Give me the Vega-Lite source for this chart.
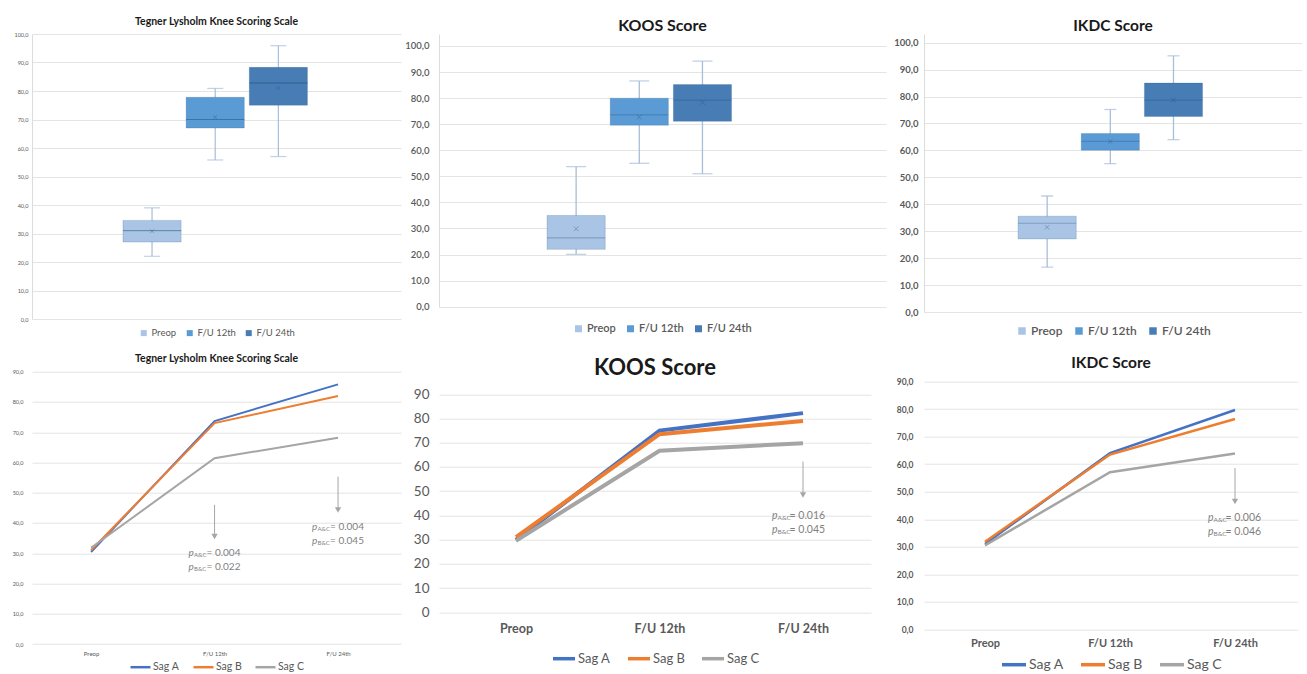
{
  "$schema": "https://vega.github.io/schema/vega-lite/v6.json",
  "background": "white",
  "padding": {"left": 12, "top": 16, "right": 0, "bottom": 0},
  "config": {
    "font": "Lato",
    "view": {"stroke": null},
    "axis": {"domain": false, "ticks": false, "gridColor": "#e4e4e4", "labelColor": "#595959", "labelFont": "Lato", "labelOverlap": false},
    "title": {"color": "#1a1a1a", "fontWeight": "bold", "font": "Lato"},
    "legend": {"layout": {"bottom": {"anchor": "middle"}}, "labelColor": "#595959", "labelFont": "Lato"}
  },
  "datasets": {
    "tegnerBox": [
      {"time": "Preop", "min": 22, "q1": 27, "median": 31, "q3": 34.6, "max": 39, "mean": 30.8},
      {"time": "F/U 12th", "min": 55.8, "q1": 67, "median": 70, "q3": 77.8, "max": 80.9, "mean": 70.8},
      {"time": "F/U 24th", "min": 57, "q1": 75, "median": 82.8, "q3": 88.3, "max": 95.9, "mean": 81}
    ],
    "koosBox": [
      {"time": "Preop", "min": 20.1, "q1": 22, "median": 26.4, "q3": 35, "max": 53.7, "mean": 29.9},
      {"time": "F/U 12th", "min": 55, "q1": 69.6, "median": 73.6, "q3": 80, "max": 86.6, "mean": 72.7},
      {"time": "F/U 24th", "min": 51, "q1": 71.1, "median": 79.2, "q3": 85.2, "max": 94.2, "mean": 78.4}
    ],
    "ikdcBox": [
      {"time": "Preop", "min": 16.7, "q1": 27.2, "median": 33, "q3": 35.6, "max": 43.1, "mean": 31.5},
      {"time": "F/U 12th", "min": 55.1, "q1": 60.1, "median": 63.4, "q3": 66.3, "max": 75.2, "mean": 63.3},
      {"time": "F/U 24th", "min": 64, "q1": 72.6, "median": 78.7, "q3": 85, "max": 95.1, "mean": 78.7}
    ],
    "tegnerLine": [
      {"time": "Preop", "group": "Sag A", "score": 30.4},
      {"time": "F/U 12th", "group": "Sag A", "score": 73.7},
      {"time": "F/U 24th", "group": "Sag A", "score": 85.8},
      {"time": "Preop", "group": "Sag B", "score": 31.0},
      {"time": "F/U 12th", "group": "Sag B", "score": 73.0},
      {"time": "F/U 24th", "group": "Sag B", "score": 82.0},
      {"time": "Preop", "group": "Sag C", "score": 31.8},
      {"time": "F/U 12th", "group": "Sag C", "score": 61.4},
      {"time": "F/U 24th", "group": "Sag C", "score": 68.2}
    ],
    "koosLine": [
      {"time": "Preop", "group": "Sag A", "score": 29.9},
      {"time": "F/U 12th", "group": "Sag A", "score": 75.0},
      {"time": "F/U 24th", "group": "Sag A", "score": 82.2},
      {"time": "Preop", "group": "Sag B", "score": 31.0},
      {"time": "F/U 12th", "group": "Sag B", "score": 73.5},
      {"time": "F/U 24th", "group": "Sag B", "score": 79.0},
      {"time": "Preop", "group": "Sag C", "score": 29.5},
      {"time": "F/U 12th", "group": "Sag C", "score": 66.7},
      {"time": "F/U 24th", "group": "Sag C", "score": 69.8}
    ],
    "ikdcLine": [
      {"time": "Preop", "group": "Sag A", "score": 31.0},
      {"time": "F/U 12th", "group": "Sag A", "score": 64.0},
      {"time": "F/U 24th", "group": "Sag A", "score": 79.7},
      {"time": "Preop", "group": "Sag B", "score": 31.8},
      {"time": "F/U 12th", "group": "Sag B", "score": 63.5},
      {"time": "F/U 24th", "group": "Sag B", "score": 76.4},
      {"time": "Preop", "group": "Sag C", "score": 30.5},
      {"time": "F/U 12th", "group": "Sag C", "score": 57.1},
      {"time": "F/U 24th", "group": "Sag C", "score": 63.9}
    ],
    "tegnerArrow": [
      {"time": "F/U 12th", "from": 46, "to": 35.5},
      {"time": "F/U 24th", "from": 55.3, "to": 44.3}
    ],
    "tegnerP": [
      {"time": "F/U 12th", "y": 30.0, "sub": "A&C", "val": "= 0.004"},
      {"time": "F/U 12th", "y": 25.4, "sub": "B&C", "val": "= 0.022"},
      {"time": "F/U 24th", "y": 38.6, "sub": "A&C", "val": "= 0.004"},
      {"time": "F/U 24th", "y": 34.1, "sub": "B&C", "val": "= 0.045"}
    ],
    "koosArrow": [
      {"time": "F/U 24th", "from": 62.2, "to": 48.4}
    ],
    "koosP": [
      {"time": "F/U 24th", "y": 39.8, "sub": "A&C", "val": "= 0.016"},
      {"time": "F/U 24th", "y": 34.0, "sub": "B&C", "val": "= 0.045"}
    ],
    "ikdcArrow": [
      {"time": "F/U 24th", "from": 58.6, "to": 46.4}
    ],
    "ikdcP": [
      {"time": "F/U 24th", "y": 40.5, "sub": "A&C", "val": "= 0.006"},
      {"time": "F/U 24th", "y": 35.5, "sub": "B&C", "val": "= 0.046"}
    ]
  },
  "columns": 3,
  "bounds": "flush",
  "align": "each",
  "spacing": {"row": 52.7, "column": 38},
  "resolve": {"scale": {"color": "independent"}, "legend": {"color": "independent"}},
  "concat": [
    {
      "width": 369, "height": 285,
      "title": {"text": "Tegner Lysholm Knee Scoring Scale", "fontSize": 10.5, "offset": 5},
      "data": {"name": "tegnerBox"},
      "encoding": {
        "x": {"datum": "score", "type": "nominal", "scale": {"paddingInner": 0, "paddingOuter": 0.5, "align": 0.493}, "axis": null},
        "xOffset": {"field": "time", "type": "nominal", "scale": {"domain": ["Preop", "F/U 12th", "F/U 24th"], "paddingInner": 0.079, "paddingOuter": 0}}
      },
      "layer": [
        {
          "mark": {"type": "rule", "color": "#a8bdd8", "strokeWidth": 1.2},
          "encoding": {
            "y": {"field": "min", "type": "quantitative", "scale": {"domain": [0, 100], "nice": false},
                  "axis": {"title": null, "values": [0, 10, 20, 30, 40, 50, 60, 70, 80, 90, 100], "tickCount": 50, "labelOverlap": false, "labelExpr": "replace(format(datum.value, '.1f'), '.', ',')", "labelFontSize": 5.5, "labelPadding": 4, "domain": true, "domainColor": "#dcdcdc"}},
            "y2": {"field": "max"}
          }
        },
        {"mark": {"type": "tick", "color": "#a8bdd8", "size": 16, "thickness": 1.2, "orient": "horizontal"}, "encoding": {"y": {"field": "min", "type": "quantitative"}}},
        {"mark": {"type": "tick", "color": "#a8bdd8", "size": 16, "thickness": 1.2, "orient": "horizontal"}, "encoding": {"y": {"field": "max", "type": "quantitative"}}},
        {
          "mark": {"type": "bar", "stroke": "#1f4e79", "strokeOpacity": 0.2, "strokeWidth": 1},
          "encoding": {
            "y": {"field": "q1", "type": "quantitative"},
            "y2": {"field": "q3"},
            "color": {"field": "time", "type": "nominal", "scale": {"domain": ["Preop", "F/U 12th", "F/U 24th"], "range": ["#aac4e5", "#5b9bd5", "#477db4"]},
                      "legend": {"title": null, "orient": "bottom", "direction": "horizontal", "symbolType": "square", "symbolSize": 36, "symbolStrokeWidth": 0, "labelFontSize": 9.5, "columnPadding": 8, "labelOffset": 3, "offset": 9}}
          }
        },
        {"mark": {"type": "bar", "fillOpacity": 0, "stroke": "#1f4e79", "strokeOpacity": 0.3, "strokeWidth": 1}, "encoding": {"y": {"field": "median", "type": "quantitative"}, "y2": {"field": "median"}}},
        {"mark": {"type": "point", "shape": "M-1,-1L1,1M-1,1L1,-1", "filled": false, "size": 14, "color": "#1f4e79", "opacity": 0.35, "strokeWidth": 1}, "encoding": {"y": {"field": "mean", "type": "quantitative"}}}
      ]
    },
    {
      "width": 447, "height": 272.7,
      "title": {"text": "KOOS Score", "fontSize": 16, "offset": 0},
      "data": {"name": "koosBox"},
      "encoding": {
        "x": {"datum": "score", "type": "nominal", "scale": {"paddingInner": 0, "paddingOuter": 0.518, "align": 0.475}, "axis": null},
        "xOffset": {"field": "time", "type": "nominal", "scale": {"domain": ["Preop", "F/U 12th", "F/U 24th"], "paddingInner": 0.1, "paddingOuter": 0}}
      },
      "layer": [
        {
          "mark": {"type": "rule", "color": "#a8bdd8", "strokeWidth": 1.3},
          "encoding": {
            "y": {"field": "min", "type": "quantitative", "scale": {"domain": [0, 104.6], "nice": false},
                  "axis": {"title": null, "values": [0, 10, 20, 30, 40, 50, 60, 70, 80, 90, 100], "tickCount": 50, "labelOverlap": false, "labelExpr": "replace(format(datum.value, '.1f'), '.', ',')", "labelFontSize": 9.5, "labelFontWeight": 600, "labelPadding": 10, "domain": true, "domainColor": "#dcdcdc"}},
            "y2": {"field": "max"}
          }
        },
        {"mark": {"type": "tick", "color": "#a8bdd8", "size": 20, "thickness": 1.3, "orient": "horizontal"}, "encoding": {"y": {"field": "min", "type": "quantitative"}}},
        {"mark": {"type": "tick", "color": "#a8bdd8", "size": 20, "thickness": 1.3, "orient": "horizontal"}, "encoding": {"y": {"field": "max", "type": "quantitative"}}},
        {
          "mark": {"type": "bar", "stroke": "#1f4e79", "strokeOpacity": 0.2, "strokeWidth": 1},
          "encoding": {
            "y": {"field": "q1", "type": "quantitative"},
            "y2": {"field": "q3"},
            "color": {"field": "time", "type": "nominal", "scale": {"domain": ["Preop", "F/U 12th", "F/U 24th"], "range": ["#aac4e5", "#5b9bd5", "#477db4"]},
                      "legend": {"title": null, "orient": "bottom", "direction": "horizontal", "symbolType": "square", "symbolSize": 49, "symbolStrokeWidth": 0, "labelFontSize": 11, "labelFontWeight": 600, "columnPadding": 9, "labelOffset": 3, "offset": 16}}
          }
        },
        {"mark": {"type": "bar", "fillOpacity": 0, "stroke": "#1f4e79", "strokeOpacity": 0.3, "strokeWidth": 1.2}, "encoding": {"y": {"field": "median", "type": "quantitative"}, "y2": {"field": "median"}}},
        {"mark": {"type": "point", "shape": "M-1,-1L1,1M-1,1L1,-1", "filled": false, "size": 22, "color": "#1f4e79", "opacity": 0.35, "strokeWidth": 1}, "encoding": {"y": {"field": "mean", "type": "quantitative"}}}
      ]
    },
    {
      "width": 378, "height": 278.2,
      "title": {"text": "IKDC Score", "fontSize": 15.5, "offset": -0.5},
      "data": {"name": "ikdcBox"},
      "encoding": {
        "x": {"datum": "score", "type": "nominal", "scale": {"paddingInner": 0, "paddingOuter": 0.516, "align": 0.49}, "axis": null},
        "xOffset": {"field": "time", "type": "nominal", "scale": {"domain": ["Preop", "F/U 12th", "F/U 24th"], "paddingInner": 0.094, "paddingOuter": 0}}
      },
      "layer": [
        {
          "mark": {"type": "rule", "color": "#a8bdd8", "strokeWidth": 1.3},
          "encoding": {
            "y": {"field": "min", "type": "quantitative", "scale": {"domain": [0, 103.2], "nice": false},
                  "axis": {"title": null, "values": [0, 10, 20, 30, 40, 50, 60, 70, 80, 90, 100], "tickCount": 50, "labelOverlap": false, "labelExpr": "replace(format(datum.value, '.1f'), '.', ',')", "labelFontSize": 9.5, "labelFontWeight": "bold", "labelPadding": 6, "domain": true, "domainColor": "#dcdcdc"}},
            "y2": {"field": "max"}
          }
        },
        {"mark": {"type": "tick", "color": "#a8bdd8", "size": 12, "thickness": 1.3, "orient": "horizontal"}, "encoding": {"y": {"field": "min", "type": "quantitative"}}},
        {"mark": {"type": "tick", "color": "#a8bdd8", "size": 12, "thickness": 1.3, "orient": "horizontal"}, "encoding": {"y": {"field": "max", "type": "quantitative"}}},
        {
          "mark": {"type": "bar", "stroke": "#1f4e79", "strokeOpacity": 0.2, "strokeWidth": 1},
          "encoding": {
            "y": {"field": "q1", "type": "quantitative"},
            "y2": {"field": "q3"},
            "color": {"field": "time", "type": "nominal", "scale": {"domain": ["Preop", "F/U 12th", "F/U 24th"], "range": ["#aac4e5", "#5b9bd5", "#477db4"]},
                      "legend": {"title": null, "orient": "bottom", "direction": "horizontal", "symbolType": "square", "symbolSize": 56, "symbolStrokeWidth": 0, "labelFontSize": 12, "labelFontWeight": 600, "columnPadding": 10, "labelOffset": 3, "offset": 12}}
          }
        },
        {"mark": {"type": "bar", "fillOpacity": 0, "stroke": "#1f4e79", "strokeOpacity": 0.3, "strokeWidth": 1.2}, "encoding": {"y": {"field": "median", "type": "quantitative"}, "y2": {"field": "median"}}},
        {"mark": {"type": "point", "shape": "M-1,-1L1,1M-1,1L1,-1", "filled": false, "size": 18, "color": "#1f4e79", "opacity": 0.35, "strokeWidth": 1}, "encoding": {"y": {"field": "mean", "type": "quantitative"}}}
      ]
    },
    {
      "width": 369, "height": 272.3,
      "title": {"text": "Tegner Lysholm Knee Scoring Scale", "fontSize": 10.5, "offset": 5},
      "layer": [
        {
          "data": {"name": "tegnerLine"},
          "mark": {"type": "line", "strokeWidth": 2},
          "encoding": {
            "x": {"field": "time", "type": "nominal", "sort": ["Preop", "F/U 12th", "F/U 24th"], "scale": {"type": "point", "domain": ["Preop", "F/U 12th", "F/U 24th"], "padding": 0.494, "align": 0.484},
                  "axis": {"title": null, "labelAngle": 0, "labelFontSize": 6, "labelPadding": 6, "grid": false}},
            "y": {"field": "score", "type": "quantitative", "scale": {"domain": [0, 90], "nice": false},
                  "axis": {"title": null, "values": [0, 10, 20, 30, 40, 50, 60, 70, 80, 90], "tickCount": 50, "labelOverlap": false, "labelExpr": "replace(format(datum.value, '.1f'), '.', ',')", "labelFontSize": 5.5, "labelPadding": 9}},
            "color": {"field": "group", "type": "nominal", "scale": {"domain": ["Sag A", "Sag B", "Sag C"], "range": ["#4472c4", "#ed7d31", "#a5a5a5"]},
                      "legend": {"title": null, "orient": "bottom", "direction": "horizontal", "symbolType": "stroke", "symbolSize": 400, "symbolStrokeWidth": 2.5, "labelFontSize": 10.5, "columnPadding": 8, "labelOffset": 1, "offset": -1}}
          }
        },
        {
          "data": {"name": "tegnerArrow"},
          "mark": {"type": "rule", "color": "#a6a6a6", "strokeWidth": 1},
          "encoding": {"x": {"field": "time", "type": "nominal"}, "y": {"field": "from", "type": "quantitative"}, "y2": {"field": "to"}}
        },
        {
          "data": {"name": "tegnerArrow"},
          "mark": {"type": "point", "shape": "triangle-down", "filled": true, "size": 40, "color": "#a6a6a6", "opacity": 1},
          "encoding": {"x": {"field": "time", "type": "nominal"}, "y": {"field": "to", "type": "quantitative"}}
        },
        {
          "data": {"name": "tegnerP"},
          "mark": {"type": "text", "text": "p", "fontStyle": "italic", "fontSize": 10, "align": "left", "baseline": "middle", "dx": -26, "color": "#7f7f7f"},
          "encoding": {"x": {"field": "time", "type": "nominal"}, "y": {"field": "y", "type": "quantitative"}}
        },
        {
          "data": {"name": "tegnerP"},
          "mark": {"type": "text", "fontSize": 6, "align": "left", "baseline": "middle", "dx": -20.5, "dy": 2, "color": "#7f7f7f"},
          "encoding": {"x": {"field": "time", "type": "nominal"}, "y": {"field": "y", "type": "quantitative"}, "text": {"field": "sub"}}
        },
        {
          "data": {"name": "tegnerP"},
          "mark": {"type": "text", "fontSize": 10, "align": "left", "baseline": "middle", "dx": -8, "color": "#7f7f7f"},
          "encoding": {"x": {"field": "time", "type": "nominal"}, "y": {"field": "y", "type": "quantitative"}, "text": {"field": "val"}}
        }
      ]
    },
    {
      "width": 432, "height": 240.6,
      "title": {"text": "KOOS Score", "fontSize": 22, "offset": 0, "dy": 8},
      "layer": [
        {
          "data": {"name": "koosLine"},
          "mark": {"type": "line", "strokeWidth": 4},
          "encoding": {
            "x": {"field": "time", "type": "nominal", "sort": ["Preop", "F/U 12th", "F/U 24th"], "scale": {"type": "point", "domain": ["Preop", "F/U 12th", "F/U 24th"], "padding": 0.505, "align": 0.531},
                  "axis": {"title": null, "labelAngle": 0, "labelFontSize": 12.5, "labelFontWeight": "bold", "labelPadding": 10, "grid": false}},
            "y": {"field": "score", "type": "quantitative", "scale": {"domain": [0, 99.3], "nice": false},
                  "axis": {"title": null, "values": [0, 10, 20, 30, 40, 50, 60, 70, 80, 90], "tickCount": 50, "labelOverlap": false, "format": "d", "labelFontSize": 13.5, "labelPadding": 10}},
            "color": {"field": "group", "type": "nominal", "scale": {"domain": ["Sag A", "Sag B", "Sag C"], "range": ["#4472c4", "#ed7d31", "#a5a5a5"]},
                      "legend": {"title": null, "orient": "bottom", "direction": "horizontal", "symbolType": "stroke", "symbolSize": 484, "symbolStrokeWidth": 3.5, "labelFontSize": 13, "columnPadding": 10, "labelOffset": 1, "offset": 10}}
          }
        },
        {
          "data": {"name": "koosArrow"},
          "mark": {"type": "rule", "color": "#a6a6a6", "strokeWidth": 1},
          "encoding": {"x": {"field": "time", "type": "nominal"}, "y": {"field": "from", "type": "quantitative"}, "y2": {"field": "to"}}
        },
        {
          "data": {"name": "koosArrow"},
          "mark": {"type": "point", "shape": "triangle-down", "filled": true, "size": 40, "color": "#a6a6a6", "opacity": 1},
          "encoding": {"x": {"field": "time", "type": "nominal"}, "y": {"field": "to", "type": "quantitative"}}
        },
        {
          "data": {"name": "koosP"},
          "mark": {"type": "text", "text": "p", "fontStyle": "italic", "fontSize": 10.5, "align": "left", "baseline": "middle", "dx": -31, "color": "#7f7f7f"},
          "encoding": {"x": {"field": "time", "type": "nominal"}, "y": {"field": "y", "type": "quantitative"}}
        },
        {
          "data": {"name": "koosP"},
          "mark": {"type": "text", "fontSize": 6.5, "align": "left", "baseline": "middle", "dx": -25.5, "dy": 2, "color": "#7f7f7f"},
          "encoding": {"x": {"field": "time", "type": "nominal"}, "y": {"field": "y", "type": "quantitative"}, "text": {"field": "sub"}}
        },
        {
          "data": {"name": "koosP"},
          "mark": {"type": "text", "fontSize": 10.5, "align": "left", "baseline": "middle", "dx": -13.5, "color": "#7f7f7f"},
          "encoding": {"x": {"field": "time", "type": "nominal"}, "y": {"field": "y", "type": "quantitative"}, "text": {"field": "val"}}
        }
      ]
    },
    {
      "width": 374, "height": 257.6,
      "title": {"text": "IKDC Score", "fontSize": 15.5, "offset": 0.5},
      "layer": [
        {
          "data": {"name": "ikdcLine"},
          "mark": {"type": "line", "strokeWidth": 2.5},
          "encoding": {
            "x": {"field": "time", "type": "nominal", "sort": ["Preop", "F/U 12th", "F/U 24th"], "scale": {"type": "point", "domain": ["Preop", "F/U 12th", "F/U 24th"], "padding": 0.496, "align": 0.492},
                  "axis": {"title": null, "labelAngle": 0, "labelFontSize": 11, "labelFontWeight": "bold", "labelPadding": 8, "grid": false}},
            "y": {"field": "score", "type": "quantitative", "scale": {"domain": [0, 93.6], "nice": false},
                  "axis": {"title": null, "values": [0, 10, 20, 30, 40, 50, 60, 70, 80, 90], "tickCount": 50, "labelOverlap": false, "labelExpr": "replace(format(datum.value, '.1f'), '.', ',')", "labelFontSize": 8.5, "labelFontWeight": "bold", "labelPadding": 11}},
            "color": {"field": "group", "type": "nominal", "scale": {"domain": ["Sag A", "Sag B", "Sag C"], "range": ["#4472c4", "#ed7d31", "#a5a5a5"]},
                      "legend": {"title": null, "orient": "bottom", "direction": "horizontal", "symbolType": "stroke", "symbolSize": 576, "symbolStrokeWidth": 3.5, "labelFontSize": 14, "columnPadding": 10, "labelOffset": 1, "offset": 2}}
          }
        },
        {
          "data": {"name": "ikdcArrow"},
          "mark": {"type": "rule", "color": "#a6a6a6", "strokeWidth": 1},
          "encoding": {"x": {"field": "time", "type": "nominal"}, "y": {"field": "from", "type": "quantitative"}, "y2": {"field": "to"}}
        },
        {
          "data": {"name": "ikdcArrow"},
          "mark": {"type": "point", "shape": "triangle-down", "filled": true, "size": 40, "color": "#a6a6a6", "opacity": 1},
          "encoding": {"x": {"field": "time", "type": "nominal"}, "y": {"field": "to", "type": "quantitative"}}
        },
        {
          "data": {"name": "ikdcP"},
          "mark": {"type": "text", "text": "p", "fontStyle": "italic", "fontSize": 10.5, "align": "left", "baseline": "middle", "dx": -27, "color": "#7f7f7f"},
          "encoding": {"x": {"field": "time", "type": "nominal"}, "y": {"field": "y", "type": "quantitative"}}
        },
        {
          "data": {"name": "ikdcP"},
          "mark": {"type": "text", "fontSize": 6.5, "align": "left", "baseline": "middle", "dx": -21.5, "dy": 2, "color": "#7f7f7f"},
          "encoding": {"x": {"field": "time", "type": "nominal"}, "y": {"field": "y", "type": "quantitative"}, "text": {"field": "sub"}}
        },
        {
          "data": {"name": "ikdcP"},
          "mark": {"type": "text", "fontSize": 10.5, "align": "left", "baseline": "middle", "dx": -9.5, "color": "#7f7f7f"},
          "encoding": {"x": {"field": "time", "type": "nominal"}, "y": {"field": "y", "type": "quantitative"}, "text": {"field": "val"}}
        }
      ]
    }
  ]
}
